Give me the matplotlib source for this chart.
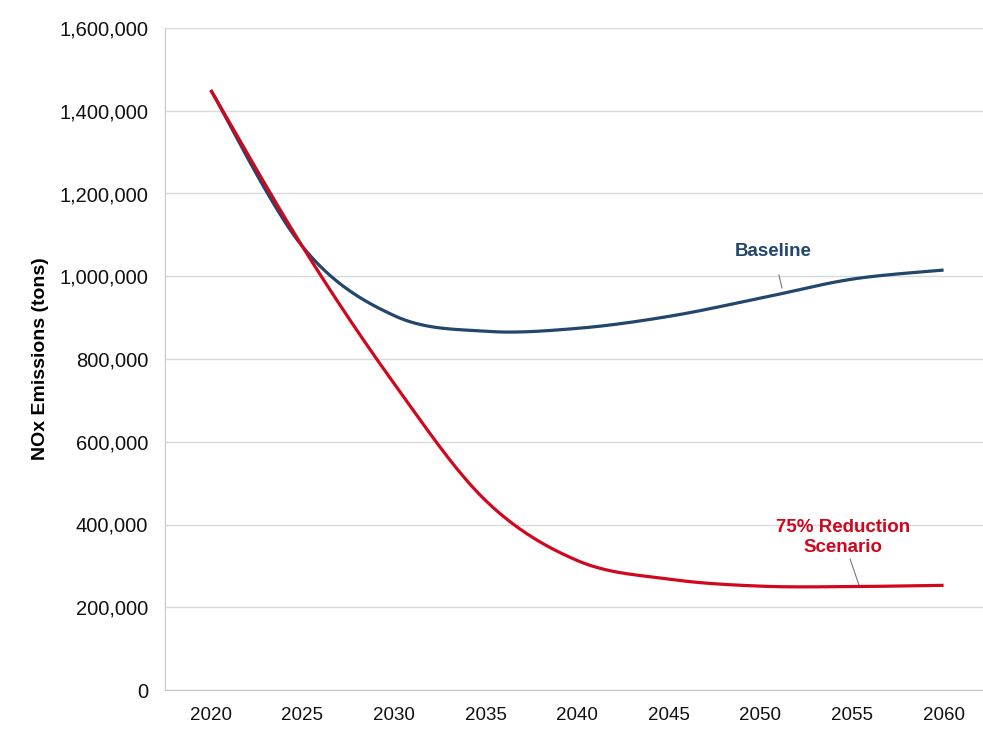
import numpy as np
import matplotlib
matplotlib.use("Agg")
import matplotlib.pyplot as plt
from matplotlib.ticker import FuncFormatter

years = [2020, 2025, 2030, 2035, 2040, 2045, 2050, 2055, 2060]
baseline = [1450000, 1072000, 905000, 867000, 874000, 903000, 947000, 993000, 1015000]
reduction = [1450000, 1072000, 741000, 458000, 313000, 268000, 251000, 250000, 253000]
y_ticks = [0, 200000, 400000, 600000, 800000, 1000000, 1200000, 1400000, 1600000]

BLUE = "#23466c"
RED = "#d0071e"


def smooth(xs, ys, n=40):
    """Catmull-Rom curve through the points (spreadsheet-style smoothed line)."""
    xs = np.asarray(xs, float)
    ys = np.asarray(ys, float)
    px = np.concatenate([[xs[0]], xs, [xs[-1]]])
    py = np.concatenate([[ys[0]], ys, [ys[-1]]])
    out_x, out_y = [], []
    t = np.linspace(0, 1, n, endpoint=False)
    for i in range(1, len(px) - 2):
        p0x, p1x, p2x, p3x = px[i - 1:i + 3]
        p0y, p1y, p2y, p3y = py[i - 1:i + 3]
        # cubic Bezier with control points at 1/6 of neighbour differences
        c1x, c1y = p1x + (p2x - p0x) / 6, p1y + (p2y - p0y) / 6
        c2x, c2y = p2x - (p3x - p1x) / 6, p2y - (p3y - p1y) / 6
        b0 = (1 - t) ** 3
        b1 = 3 * (1 - t) ** 2 * t
        b2 = 3 * (1 - t) * t ** 2
        b3 = t ** 3
        out_x.append(b0 * p1x + b1 * c1x + b2 * c2x + b3 * p2x)
        out_y.append(b0 * p1y + b1 * c1y + b2 * c2y + b3 * p2y)
    out_x.append([xs[-1]])
    out_y.append([ys[-1]])
    return np.concatenate(out_x), np.concatenate(out_y)


plt.rcParams["font.family"] = ["Liberation Sans", "DejaVu Sans"]

fig = plt.figure(figsize=(9.83, 7.30), dpi=100)
ax = fig.add_axes([165 / 983, 1 - 690 / 730, 818 / 983, 662 / 730])

ax.set_xlim(2017.5, 2062.15)
ax.set_ylim(0, 1600000)

ax.set_yticks(y_ticks)
ax.yaxis.set_major_formatter(FuncFormatter(lambda v, p: f"{int(v):,}"))
ax.set_xticks(years)
ax.set_xticklabels([str(y) for y in years])

ax.grid(axis="y", color="#d9d9d9", linewidth=1.0)
ax.set_axisbelow(True)
for side in ("top", "right"):
    ax.spines[side].set_visible(False)
ax.spines["left"].set_color("#c8c8c8")
ax.spines["bottom"].set_color("#c8c8c8")
ax.tick_params(axis="both", length=0, pad=12, labelcolor="#111111")
ax.tick_params(axis="y", labelsize=14.5)
ax.tick_params(axis="x", labelsize=13.5)

bx, by = smooth(years, baseline)
rx, ry = smooth(years, reduction)
ax.plot(bx, by, color=BLUE, linewidth=2.3, solid_capstyle="butt", zorder=3)
ax.plot(rx, ry, color=RED, linewidth=2.3, solid_capstyle="butt", zorder=4)

ax.set_ylabel("NOx Emissions (tons)", fontsize=14, fontweight="bold")
ax.yaxis.set_label_coords(-116 / 818, 0.5)

# series labels with leader lines
ax.annotate("Baseline", xy=(2051.2, 968000), xytext=(2050.7, 1060000),
            ha="center", va="center", fontsize=13.5, fontweight="bold", color=BLUE,
            arrowprops=dict(arrowstyle="-", color="#7a7a7a", lw=0.8,
                            shrinkA=9, shrinkB=1))
ax.annotate("75% Reduction\nScenario", xy=(2055.4, 251000), xytext=(2054.5, 368000),
            ha="center", va="center", fontsize=13.5, fontweight="bold", color=RED,
            linespacing=1.22,
            arrowprops=dict(arrowstyle="-", color="#7a7a7a", lw=0.8,
                            shrinkA=22, shrinkB=1))

fig.savefig("out.png", dpi=100, facecolor="white")
